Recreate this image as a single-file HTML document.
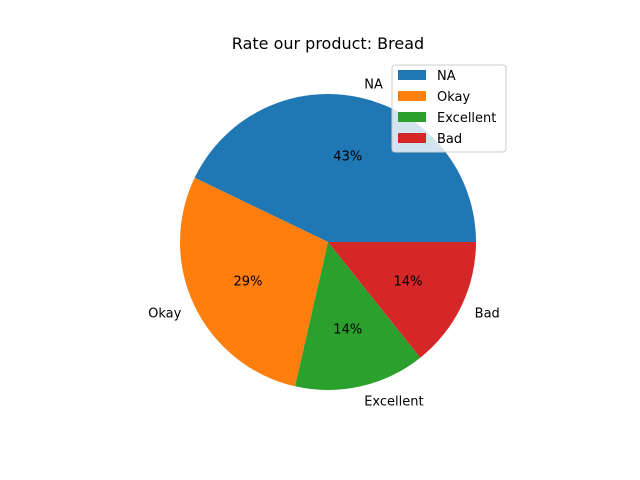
<!DOCTYPE html>
<html><head><meta charset="utf-8"><style>body{margin:0;background:#fff}svg{display:block;font-family:"DejaVu Sans","Liberation Sans",sans-serif}</style></head>
<body>
<svg id="chart" width="640" height="480" viewBox="0 0 640 480">
<text x="328" y="49" font-size="16" text-anchor="middle">Rate our product: Bread</text>
<g id="slices"></g>
<g id="legend">
<rect x="392" y="65" width="114" height="87" rx="3" fill="#fff" fill-opacity="0.8" stroke="#ccc"/>
</g>
</svg>
<script>
const categories = ["NA", "Okay", "Excellent", "Bad"];
const values = [3, 2, 1, 1];
const colors = ["#1f77b4", "#ff7f0e", "#2ca02c", "#d62728"];
const NS = "http://www.w3.org/2000/svg";
const cx = 328, cy = 242, r = 148;
const total = values.reduce((a, b) => a + b, 0);
const g = document.getElementById("slices");
const lg = document.getElementById("legend");
function pt(a, rr) { return [cx + rr * Math.cos(a), cy - rr * Math.sin(a)]; }
let start = 0;
values.forEach((v, i) => {
  const sweep = v / total * 2 * Math.PI;
  const end = start + sweep;
  const [x1, y1] = pt(start, r), [x2, y2] = pt(end, r);
  const p = document.createElementNS(NS, "path");
  p.setAttribute("d", `M${cx},${cy} L${x1},${y1} A${r},${r} 0 ${sweep > Math.PI ? 1 : 0} 0 ${x2},${y2} Z`);
  p.setAttribute("fill", colors[i]);
  
  
  g.appendChild(p);
  const mid = (start + end) / 2;
  const [lx, ly] = pt(mid, r * 1.1);
  const t = document.createElementNS(NS, "text");
  t.setAttribute("x", lx); t.setAttribute("y", ly + 5);
  t.setAttribute("font-size", "13");
  t.setAttribute("text-anchor", Math.cos(mid) >= 0 ? "start" : "end");
  t.textContent = categories[i];
  
  
  g.appendChild(t);
  const [px, py] = pt(mid, r * 0.6);
  const pc = document.createElementNS(NS, "text");
  pc.setAttribute("x", px); pc.setAttribute("y", py + 5);
  pc.setAttribute("font-size", "13");
  pc.setAttribute("text-anchor", "middle");
  pc.textContent = Math.round(v / total * 100) + "%";
  
  
  g.appendChild(pc);
  const ey = 70 + i * 21;
  const sw = document.createElementNS(NS, "rect");
  sw.setAttribute("x", 398); sw.setAttribute("y", ey); sw.setAttribute("width", 28); sw.setAttribute("height", 10);
  sw.setAttribute("fill", colors[i]);
  
  
  lg.appendChild(sw);
  const lt = document.createElementNS(NS, "text");
  lt.setAttribute("x", 437); lt.setAttribute("y", ey + 10); lt.setAttribute("font-size", "13");
  lt.textContent = categories[i];
  
  
  lg.appendChild(lt);
  start = end;
});
</script>
</body></html>
